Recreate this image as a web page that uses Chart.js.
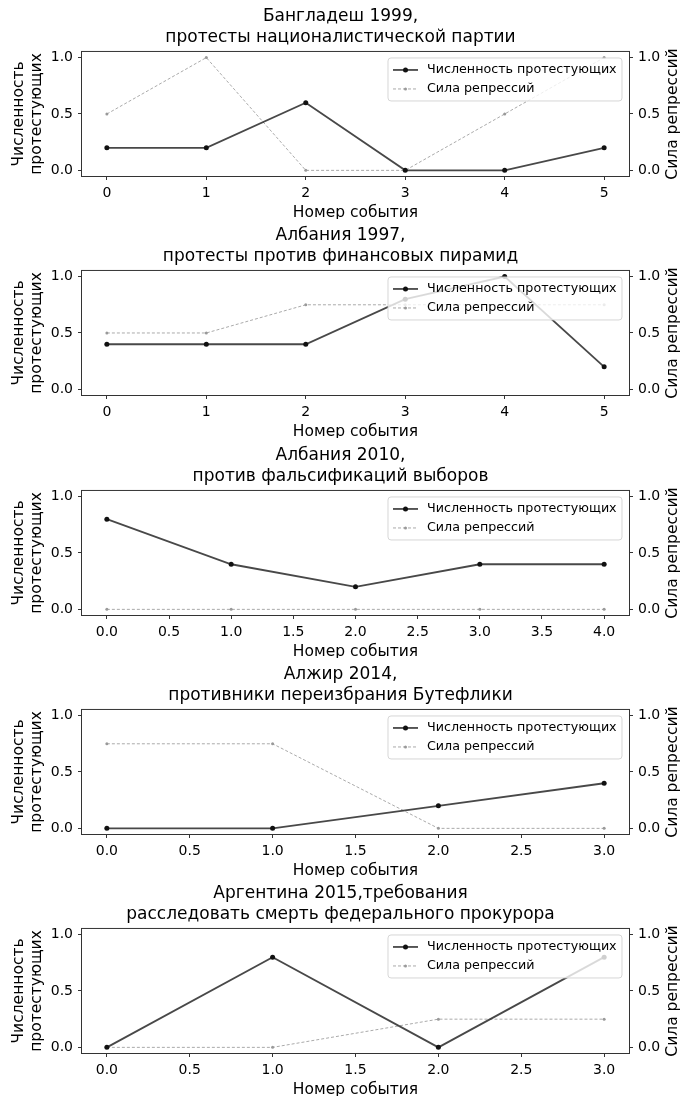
<!DOCTYPE html>
<html>
<head>
<meta charset="utf-8">
<script src="https://cdn.jsdelivr.net/npm/chart.js@4.4.0/dist/chart.umd.min.js"></script>
<style>
  body { margin: 0; background: #fff; width: 681px; height: 1098px; overflow: hidden; }
  .panel { position: absolute; left: 0; width: 681px; height: 219px; }
</style>
</head>
<body>
<div id="wrap"></div>
<script>
// ---- data ----
const titles = [
  ['Бангладеш 1999,', 'протесты националистической партии'],
  ['Албания 1997,', 'протесты против финансовых пирамид'],
  ['Албания 2010,', 'против фальсификаций выборов'],
  ['Алжир 2014,', 'противники переизбрания Бутефлики'],
  ['Аргентина 2015,требования', 'расследовать смерть федерального прокурора']
];

const protestBangladesh = [0.2, 0.2, 0.6, 0.0, 0.0, 0.2];
const repressBangladesh = [0.5, 1.0, 0.0, 0.0, 0.5, 1.0];

const protestAlbania97 = [0.4, 0.4, 0.4, 0.8, 1.0, 0.2];
const repressAlbania97 = [0.5, 0.5, 0.75, 0.75, 0.75, 0.75];

const protestAlbania10 = [0.8, 0.4, 0.2, 0.4, 0.4];
const repressAlbania10 = [0.0, 0.0, 0.0, 0.0, 0.0];

const protestAlgeria = [0.0, 0.0, 0.2, 0.4];
const repressAlgeria = [0.75, 0.75, 0.0, 0.0];

const protestArgentina = [0.0, 0.8, 0.0, 0.8];
const repressArgentina = [0.0, 0.0, 0.25, 0.25];

const xTicksInt6 = [0, 1, 2, 3, 4, 5];
const xTicksHalf4 = [0, 0.5, 1, 1.5, 2, 2.5, 3, 3.5, 4];
const xTicksHalf3 = [0, 0.5, 1, 1.5, 2, 2.5, 3];
const yTicks = [0, 0.5, 1];

const seriesNames = ['Численность протестующих', 'Сила репрессий'];
const xTitle = 'Номер события';
const yTitleLeft = ['Численность', 'протестующих'];
const yTitleRight = 'Сила репрессий';

const panels = [
  { protest: protestBangladesh, repress: repressBangladesh, xTicks: xTicksInt6, dec: 0 },
  { protest: protestAlbania97, repress: repressAlbania97, xTicks: xTicksInt6, dec: 0 },
  { protest: protestAlbania10, repress: repressAlbania10, xTicks: xTicksHalf4, dec: 1 },
  { protest: protestAlgeria, repress: repressAlgeria, xTicks: xTicksHalf3, dec: 1 },
  { protest: protestArgentina, repress: repressArgentina, xTicks: xTicksHalf3, dec: 1 }
];

Chart.defaults.font.family = '"DejaVu Sans"';
Chart.defaults.color = '#000';
Chart.defaults.animation = false;

// frame around the axes (matplotlib spines)
const framePlugin = {
  id: 'frame',
  beforeDatasetsDraw(chart) {
    const { ctx, chartArea: a } = chart;
    ctx.save();
    ctx.strokeStyle = '#333';
    ctx.lineWidth = 1;
    ctx.strokeRect(a.left - 0.5, a.top - 0.5, a.right - a.left + 1, a.bottom - a.top + 1);
    ctx.restore();
  }
};

// legend box in upper right of the axes
const legendPlugin = {
  id: 'legendBox',
  afterDatasetsDraw(chart) {
    const { ctx, chartArea: a } = chart;
    const w = 234, h = 43;
    const x = a.right - 7 - w, y = a.top + 6;
    ctx.save();
    ctx.beginPath();
    ctx.roundRect(x, y, w, h, 3);
    ctx.fillStyle = 'rgba(255,255,255,0.8)';
    ctx.fill();
    ctx.strokeStyle = 'rgba(204,204,204,0.8)';
    ctx.lineWidth = 1;
    ctx.stroke();
    chart.data.datasets.forEach((ds, i) => {
      const ry = y + 12 + i * 19;
      ctx.setLineDash(ds.borderDash || []);
      ctx.strokeStyle = ds.borderColor;
      ctx.lineWidth = ds.borderWidth;
      ctx.beginPath();
      ctx.moveTo(x + 5, ry);
      ctx.lineTo(x + 30, ry);
      ctx.stroke();
      ctx.setLineDash([]);
      ctx.fillStyle = ds.pointBackgroundColor;
      ctx.beginPath();
      ctx.arc(x + 17.5, ry, ds.pointRadius, 0, Math.PI * 2);
      ctx.fill();
      ctx.fillStyle = '#000';
      ctx.font = '12.7px "DejaVu Sans"';
      ctx.textBaseline = 'middle';
      ctx.fillText(ds.label, x + 39, ry);
    });
    ctx.restore();
  }
};

// right axis title, reading bottom to top like matplotlib
const rightTitlePlugin = {
  id: 'rightTitle',
  afterDraw(chart) {
    const { ctx, chartArea: a } = chart;
    ctx.save();
    ctx.translate(673, (a.top + a.bottom) / 2);
    ctx.rotate(-Math.PI / 2);
    ctx.font = '15.5px "DejaVu Sans"';
    ctx.fillStyle = '#000';
    ctx.textAlign = 'center';
    ctx.textBaseline = 'middle';
    ctx.fillText(yTitleRight, 0, 0);
    ctx.restore();
  }
};

const tickFont = { size: 14 };

function yAxis(pos) {
  return {
    type: 'linear',
    position: pos,
    min: -0.05,
    max: 1.05,
    afterBuildTicks: s => { s.ticks = yTicks.map(v => ({ value: v })); },
    afterFit: s => { s.width = pos === 'left' ? 82 : 52; },
    grid: { display: true, drawOnChartArea: false, tickLength: 4, color: '#333' },
    border: { display: false },
    ticks: { font: tickFont, padding: 5, callback: v => v.toFixed(1) },
    title: pos === 'left'
      ? { display: true, text: yTitleLeft, font: { size: 15.5, lineHeight: 18 / 15.5 }, padding: { top: 10, bottom: 0 } }
      : { display: false }
  };
}

const wrap = document.getElementById('wrap');

panels.forEach((p, i) => {
  const div = document.createElement('div');
  div.className = 'panel';
  div.style.top = Math.round(i * 219.25) + 'px';
  const cv = document.createElement('canvas');
  div.appendChild(cv);
  wrap.appendChild(div);

  const n = p.protest.length - 1;
  const pad = n * 0.05;

  new Chart(cv, {
    type: 'line',
    data: {
      datasets: [
        {
          label: seriesNames[0],
          data: p.protest.map((v, k) => ({ x: k, y: v })),
          yAxisID: 'y',
          borderColor: 'rgba(40,40,40,0.85)',
          borderWidth: 1.8,
          pointRadius: 2.5,
          pointBackgroundColor: '#111',
          pointBorderWidth: 0,
          tension: 0
        },
        {
          label: seriesNames[1],
          data: p.repress.map((v, k) => ({ x: k, y: v })),
          yAxisID: 'y1',
          borderColor: '#aaa',
          borderWidth: 1,
          borderDash: [3, 2],
          pointRadius: 1.5,
          pointBackgroundColor: '#999',
          pointBorderWidth: 0,
          tension: 0
        }
      ]
    },
    options: {
      responsive: true,
      maintainAspectRatio: false,
      layout: { padding: 0 },
      plugins: {
        legend: { display: false },
        tooltip: { enabled: false },
        title: {
          display: true,
          text: titles[i],
          color: '#000',
          font: { size: 17, weight: 'normal', lineHeight: 1.24 },
          padding: { top: 6, bottom: 3.8 }
        }
      },
      scales: {
        x: {
          type: 'linear',
          min: -pad,
          max: n + pad,
          afterBuildTicks: s => { s.ticks = p.xTicks.map(v => ({ value: v })); },
          afterFit: s => { s.height = 43; },
          grid: { display: true, drawOnChartArea: false, tickLength: 4, color: '#333' },
          border: { display: false },
          ticks: { font: tickFont, padding: 5, maxRotation: 0, autoSkip: false, callback: v => v.toFixed(p.dec) },
          title: { display: true, text: xTitle, font: { size: 15.5, lineHeight: 0.8 }, padding: { top: 0, bottom: 0 } }
        },
        y: yAxis('left'),
        y1: yAxis('right')
      }
    },
    plugins: [framePlugin, legendPlugin, rightTitlePlugin]
  });
});
</script>
</body>
</html>
